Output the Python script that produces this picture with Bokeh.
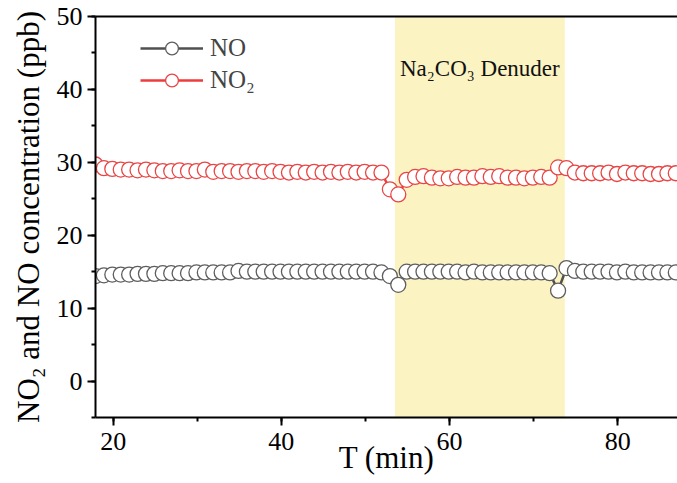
from bokeh.plotting import figure
from bokeh.models import (Range1d, SingleIntervalTicker, LinearAxis, BoxAnnotation,
                          Label, Legend, LegendItem, FixedTicker, ColumnDataSource)
from bokeh.embed import file_html
from bokeh.resources import INLINE

# ---- data ----
t_min = [17.9, 18.9, 19.9, 20.9, 21.9, 22.9, 23.9, 24.9, 25.9, 26.9,
         27.9, 28.9, 29.9, 30.9, 31.9, 32.9, 33.9, 34.9, 35.9, 36.9,
         37.9, 38.9, 39.9, 40.9, 41.9, 42.9, 43.9, 44.9, 45.9, 46.9,
         47.9, 48.9, 49.9, 50.9, 51.9, 52.9, 53.9, 54.9, 55.9, 56.9,
         57.9, 58.9, 59.9, 60.9, 61.9, 62.9, 63.9, 64.9, 65.9, 66.9,
         67.9, 68.9, 69.9, 70.9, 71.9, 72.9, 73.9, 74.9, 75.9, 76.9,
         77.9, 78.9, 79.9, 80.9, 81.9, 82.9, 83.9, 84.9, 85.9, 86.9]

no2_ppb = [29.7, 29.2, 29.1, 29.0, 29.0, 28.9, 29.0, 28.9, 28.8, 28.8,
           28.9, 28.8, 28.8, 29.0, 28.7, 28.8, 28.8, 28.7, 28.8, 28.8,
           28.7, 28.8, 28.7, 28.6, 28.7, 28.6, 28.7, 28.6, 28.7, 28.6,
           28.7, 28.6, 28.7, 28.6, 28.6, 26.3, 25.6, 27.6, 28.0, 28.1,
           27.9, 27.8, 27.8, 28.0, 27.9, 27.9, 28.1, 28.0, 28.1, 27.9,
           27.9, 27.8, 27.9, 28.0, 27.9, 29.3, 29.2, 28.6, 28.5, 28.5,
           28.5, 28.6, 28.4, 28.6, 28.5, 28.5, 28.4, 28.4, 28.5, 28.5]

no_ppb = [14.4, 14.5, 14.6, 14.6, 14.6, 14.7, 14.7, 14.7, 14.8, 14.8,
          14.8, 14.8, 14.9, 14.9, 14.9, 14.9, 14.9, 15.1, 15.0, 15.0,
          15.0, 15.0, 15.0, 15.0, 15.0, 15.0, 15.0, 15.0, 15.0, 15.0,
          15.0, 15.0, 15.0, 15.0, 14.9, 14.4, 13.2, 15.0, 15.0, 15.0,
          15.0, 15.0, 15.0, 15.0, 14.9, 15.0, 14.9, 14.9, 14.9, 14.9,
          14.9, 14.9, 14.9, 14.9, 14.8, 12.4, 15.5, 15.1, 15.0, 15.0,
          15.0, 15.0, 14.9, 15.0, 14.9, 14.9, 14.9, 14.9, 14.9, 14.9]

denuder_start, denuder_end = 53.5, 73.7
series_names = ["NO", "NO\u2082"]
band_text = "Na\u2082CO\u2083 Denuder"
x_label = "T (min)"
y_label = "NO\u2082 and NO concentration (ppb)"

FONT = "Liberation Serif"

src = ColumnDataSource(dict(t=t_min, no=no_ppb, no2=no2_ppb))

p = figure(width=677, height=483,
           x_range=Range1d(17.9, 87.1), y_range=Range1d(-5, 50),
           output_backend="svg", toolbar_location=None,
           min_border_left=95, min_border_right=0,
           min_border_top=16, min_border_bottom=66)
p.xgrid.visible = False
p.ygrid.visible = False
p.outline_line_color = None
p.background_fill_color = "white"
p.border_fill_color = "white"

band = BoxAnnotation(left=denuder_start, right=denuder_end, fill_color="#fcf3c3",
                     fill_alpha=1.0, line_color=None, level="underlay")
p.add_layout(band)

# series
l_no2 = p.line("t", "no2", source=src, line_color="#ee3b3b", line_width=2.5)
s_no2 = p.scatter("t", "no2", source=src, marker="circle", size=15,
                  fill_color="white", line_color="#e84545", line_width=1.3)
l_no = p.line("t", "no", source=src, line_color="#505050", line_width=2.5)
s_no = p.scatter("t", "no", source=src, marker="circle", size=15,
                 fill_color="white", line_color="#5e5e5e", line_width=1.3)

# axes
for ax in (p.xaxis[0], p.yaxis[0]):
    ax.axis_line_width = 2
    ax.axis_line_color = "black"
    ax.major_tick_line_width = 2
    ax.minor_tick_line_width = 2
    ax.major_tick_in = 0
    ax.major_tick_out = 8
    ax.minor_tick_in = 0
    ax.minor_tick_out = 4
    ax.major_label_text_font = FONT
    ax.major_label_text_font_size = "26px"
    ax.major_label_text_color = "black"
    ax.axis_label_text_font = FONT
    ax.axis_label_text_font_size = "31px"
    ax.axis_label_text_font_style = "normal"
    ax.axis_label_text_color = "black"

p.xaxis[0].ticker = SingleIntervalTicker(interval=20, num_minor_ticks=2)
p.yaxis[0].ticker = SingleIntervalTicker(interval=10, num_minor_ticks=2)
p.xaxis[0].axis_label = x_label
p.yaxis[0].axis_label = y_label
p.xaxis[0].major_label_standoff = 7
p.xaxis[0].axis_label_standoff = -13
p.yaxis[0].major_label_standoff = 5
p.yaxis[0].axis_label_standoff = 8

top_ax = LinearAxis(ticker=FixedTicker(ticks=[]), axis_line_width=2,
                    axis_line_color="black", major_tick_out=0, major_tick_in=0,
                    minor_tick_out=0, minor_tick_in=0, major_label_standoff=0,
                    axis_label_standoff=0)
p.add_layout(top_ax, "above")

lab = Label(x=(denuder_start + denuder_end) / 2, y=42.9, text=band_text,
            text_align="center", text_baseline="alphabetic",
            text_font=FONT, text_font_size="23px", text_color="#111111")
p.add_layout(lab)

legend = Legend(items=[LegendItem(label=series_names[0], renderers=[l_no, s_no]),
                       LegendItem(label=series_names[1], renderers=[l_no2, s_no2])],
                location=(45, 321), glyph_width=63, glyph_height=32, spacing=0,
                label_text_font=FONT, label_text_font_size="25px",
                label_standoff=7, padding=0, margin=0,
                border_line_color=None, background_fill_alpha=0)
p.add_layout(legend)

open("out.html", "w").write(file_html(p, INLINE))
